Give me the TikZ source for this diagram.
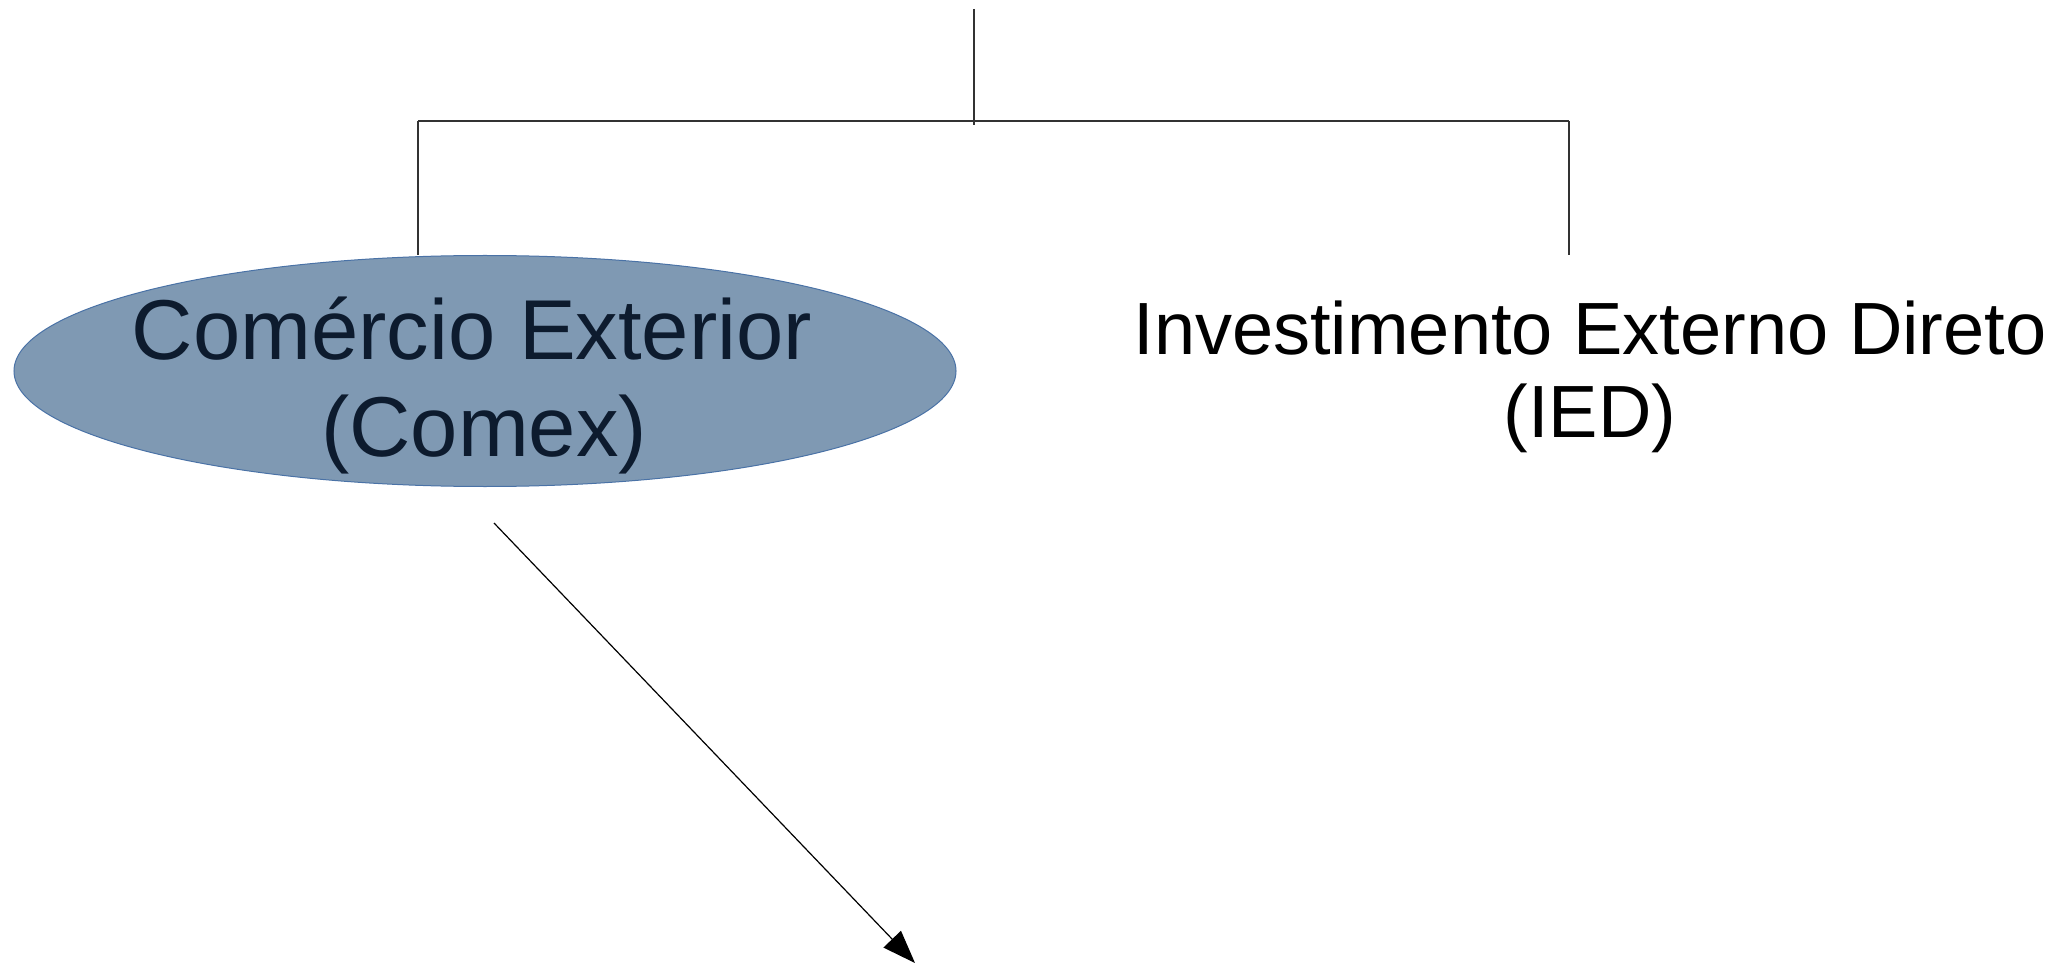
\documentclass[tikz,border=0pt]{standalone}
\usepackage{fontspec}
\setmainfont{Liberation Sans}
\usetikzlibrary{shapes.geometric,arrows.meta}
\definecolor{ellfill}{HTML}{7F99B3}
\definecolor{elldraw}{HTML}{4A72A6}
\definecolor{elltext}{HTML}{0D1B2E}
\definecolor{linecol}{HTML}{333333}
\tikzset{
  conn/.style={draw=linecol, line width=1.3pt},
  arrowconn/.style={draw=black, line width=1.2pt, -{Triangle[length=33pt,width=24pt]}},
  ellbox/.style={ellipse, fill=ellfill, draw=elldraw, line width=1pt, minimum width=942pt, minimum height=231pt, inner sep=0pt},
  bigtext/.style={align=center, inner sep=0pt, font=\fontsize{85}{97}\selectfont, text=elltext},
  iedtext/.style={align=center, inner sep=0pt, font=\fontsize{74}{83}\selectfont, text=black}
}
\begin{document}
\begin{tikzpicture}[x=1pt,y=-1pt]
\useasboundingbox (0,0) rectangle (2061,965);
% root and bar
\coordinate (root) at (974,9);
\coordinate (rootend) at (974,125);
\coordinate (barL) at (418,121);
\coordinate (barR) at (1569,121);
\coordinate (ringR) at (1569,255);
% ellipse
\node[ellbox] (comex) at (485,371) {};
\node[bigtext] (comexlabel) at (484,386) {Comércio Exterior\hspace*{24pt}\\(Comex)};
% IED
\node[iedtext] (ied) at (1590,377) {Investimento Externo Direto\\(IED)};
% arrow ends
\coordinate (arrstart) at (494,523);
\coordinate (arrend) at (915,963);
% connectors
\draw[conn] (root) -- (rootend);
\draw[conn] (barL) -- (barR);
\draw[conn] (barL) -- (barL |- comex.north);
\draw[conn] (barR) -- (ringR);
\draw[arrowconn] (arrstart) -- (arrend);
\end{tikzpicture}
\end{document}
